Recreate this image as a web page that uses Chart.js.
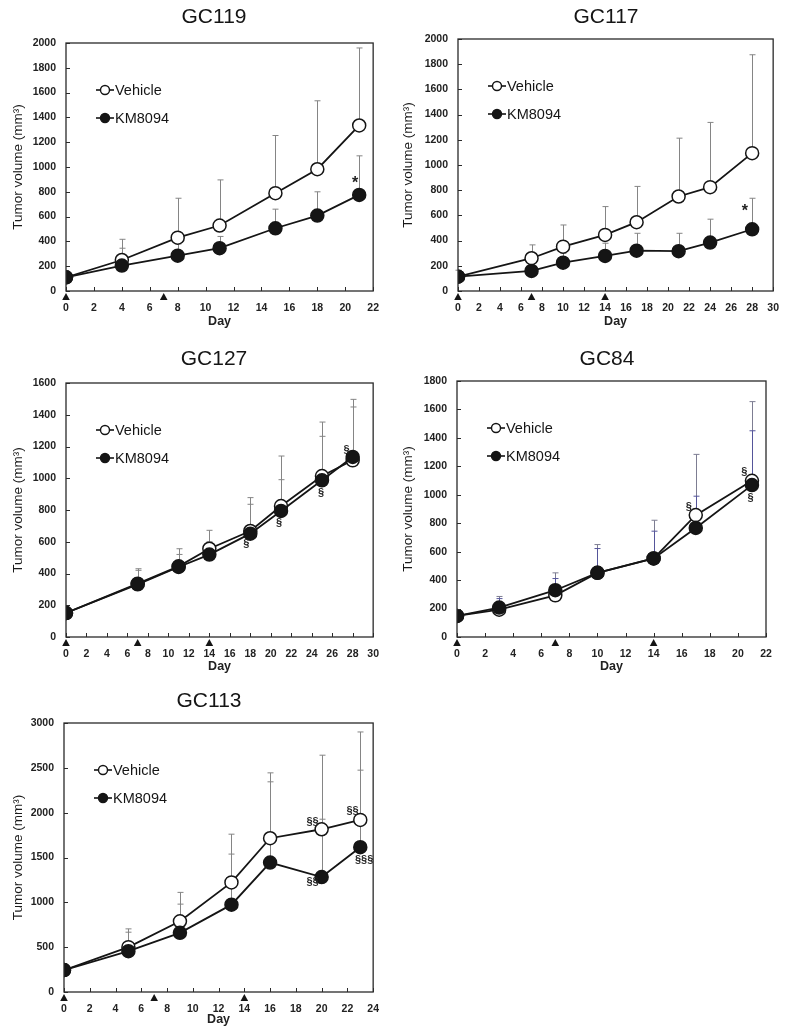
<!DOCTYPE html>
<html>
<head>
<meta charset="utf-8">
<script src="https://cdn.jsdelivr.net/npm/chart.js@4.4.0/dist/chart.umd.min.js"></script>
<style>
  body { margin: 0; background: #fff; width: 790px; height: 1033px; position: relative; overflow: hidden; }
  canvas { position: absolute; }
</style>
</head>
<body>
<canvas id="gc119" width="390" height="330" style="left:0;top:0"></canvas>
<canvas id="gc117" width="400" height="330" style="left:390px;top:0"></canvas>
<canvas id="gc127" width="390" height="345" style="left:0;top:330px"></canvas>
<canvas id="gc84" width="400" height="345" style="left:390px;top:330px"></canvas>
<canvas id="gc113" width="390" height="358" style="left:0;top:675px"></canvas>
<script>
// GC119
const gc119Days = [0, 4, 8, 11, 15, 18, 21];
const gc119Vehicle = [110, 250, 430, 528, 789, 982, 1335];
const gc119VehicleTop = [null, 417, 748, 896, 1254, 1534, 1960];
const gc119Km = [110, 205, 285, 345, 506, 608, 775];
const gc119KmTop = [null, 345, 380, 440, 660, 800, 1090];
const gc119Dosing = [0, 7];
const gc119Marks = [[20.7, 869, '*']];
const gc119XTicks = [0, 2, 4, 6, 8, 10, 12, 14, 16, 18, 20, 22];
const gc119YTicks = [0, 200, 400, 600, 800, 1000, 1200, 1400, 1600, 1800, 2000];

// GC117
const gc117Days = [0, 7, 10, 14, 17, 21, 24, 28];
const gc117Vehicle = [114, 260, 352, 445, 546, 750, 824, 1094];
const gc117VehicleTop = [165, 366, 524, 670, 830, 1213, 1338, 1875];
const gc117Km = [114, 159, 225, 278, 320, 316, 384, 490];
const gc117KmTop = [null, 230, 300, 379, 458, 458, 570, 736];
const gc117Dosing = [0, 7, 14];
const gc117Marks = [[27.3, 630, '*']];
const gc117XTicks = [0, 2, 4, 6, 8, 10, 12, 14, 16, 18, 20, 22, 24, 26, 28, 30];
const gc117YTicks = [0, 200, 400, 600, 800, 1000, 1200, 1400, 1600, 1800, 2000];

// GC127
const gc127Days = [0, 7, 11, 14, 18, 21, 25, 28];
const gc127Vehicle = [151, 336, 445, 556, 668, 825, 1014, 1113];
const gc127VehicleTop = [null, 430, 556, 672, 878, 1140, 1354, 1497];
const gc127Km = [151, 332, 441, 519, 651, 794, 987, 1134];
const gc127KmTop = [null, 420, 520, 600, 836, 991, 1264, 1449];
const gc127Dosing = [0, 7, 14];
const gc127Marks = [[17.6, 588, '§'], [20.8, 718, '§'], [24.9, 909, '§'], [27.4, 1180, '§']];
const gc127XTicks = [0, 2, 4, 6, 8, 10, 12, 14, 16, 18, 20, 22, 24, 26, 28, 30];
const gc127YTicks = [0, 200, 400, 600, 800, 1000, 1200, 1400, 1600];

// GC84
const gc84Days = [0, 3, 7, 10, 14, 17, 21];
const gc84Vehicle = [148, 192, 293, 451, 552, 857, 1098];
const gc84VehicleTop = [null, 285, 451, 650, 821, 1284, 1655];
const gc84Km = [148, 207, 329, 451, 552, 767, 1068];
const gc84KmTop = [null, 270, 411, 622, 744, 990, 1450];
const gc84Dosing = [0, 7, 14];
const gc84Marks = [[16.5, 911, '§'], [20.45, 1161, '§'], [20.9, 981, '§']];
const gc84XTicks = [0, 2, 4, 6, 8, 10, 12, 14, 16, 18, 20, 22];
const gc84YTicks = [0, 200, 400, 600, 800, 1000, 1200, 1400, 1600, 1800];

// GC113
const gc113Days = [0, 5, 9, 13, 16, 20, 23];
const gc113Vehicle = [244, 500, 789, 1222, 1715, 1815, 1919];
const gc113VehicleTop = [null, 704, 1111, 1760, 2444, 2641, 2900];
const gc113Km = [244, 455, 660, 974, 1444, 1282, 1615];
const gc113KmTop = [null, 667, 980, 1538, 2344, 1927, 2474];
const gc113Dosing = [0, 7, 14];
const gc113Marks = [[19.3, 1900, '§§'], [22.4, 2022, '§§'], [19.3, 1222, '§§'], [23.3, 1474, '§§§']];
const gc113XTicks = [0, 2, 4, 6, 8, 10, 12, 14, 16, 18, 20, 22, 24];
const gc113YTicks = [0, 500, 1000, 1500, 2000, 2500, 3000];

const FONT = "'Liberation Sans', Arial, sans-serif";
const INK = '#151515';

// upper-only error bars, drawn under the lines and markers
const errorBars = {
  id: 'errorBars',
  beforeDatasetsDraw(chart) {
    const ctx = chart.ctx, x = chart.scales.x, y = chart.scales.y;
    chart.data.datasets.forEach(ds => {
      ctx.save();
      ctx.strokeStyle = ds.errColor;
      ctx.lineWidth = 1;
      ds.data.forEach((p, i) => {
        const top = ds.tops[i];
        if (top == null) return;
        const px = Math.round(x.getPixelForValue(p.x)) + 0.5;
        const y0 = y.getPixelForValue(p.y), y1 = y.getPixelForValue(top);
        ctx.beginPath();
        ctx.moveTo(px, y0); ctx.lineTo(px, y1);
        ctx.moveTo(px - 3, y1); ctx.lineTo(px + 3, y1);
        ctx.stroke();
      });
      ctx.restore();
    });
  }
};

// frame, inward ticks, dosing triangles, title, legend, significance marks
const decor = {
  id: 'decor',
  afterDraw(chart, args, opts) {
    const ctx = chart.ctx, a = chart.chartArea, x = chart.scales.x, y = chart.scales.y;
    ctx.save();
    ctx.strokeStyle = '#2a2a2a';
    ctx.lineWidth = 1.3;
    ctx.strokeRect(a.left, a.top, a.right - a.left, a.bottom - a.top);
    ctx.lineWidth = 1;
    ctx.beginPath();
    x.ticks.forEach(t => {
      const px = Math.round(x.getPixelForValue(t.value)) + 0.5;
      ctx.moveTo(px, a.bottom); ctx.lineTo(px, a.bottom - 4);
    });
    y.ticks.forEach(t => {
      const py = Math.round(y.getPixelForValue(t.value)) + 0.5;
      ctx.moveTo(a.left, py); ctx.lineTo(a.left + 4, py);
    });
    ctx.stroke();

    ctx.fillStyle = INK;
    opts.dosing.forEach(d => {
      const px = x.getPixelForValue(d);
      ctx.beginPath();
      ctx.moveTo(px, a.bottom + 2);
      ctx.lineTo(px - 3.8, a.bottom + 9);
      ctx.lineTo(px + 3.8, a.bottom + 9);
      ctx.closePath();
      ctx.fill();
    });

    ctx.textAlign = 'center';
    ctx.textBaseline = 'middle';
    ctx.font = '21px ' + FONT;
    ctx.fillText(opts.title, opts.titleX, opts.titleY);

    opts.marks.forEach(m => {
      ctx.font = m[2] === '*' ? 'bold 16px ' + FONT : 'bold 11px ' + FONT;
      ctx.fillStyle = '#222';
      ctx.fillText(m[2], x.getPixelForValue(m[0]), y.getPixelForValue(m[1]));
    });

    const lx = a.left + 30;
    chart.data.datasets.forEach((ds, i) => {
      const ly = a.top + 47 + i * 28;
      ctx.strokeStyle = INK;
      ctx.lineWidth = 1.6;
      ctx.beginPath();
      ctx.moveTo(lx, ly); ctx.lineTo(lx + 18, ly);
      ctx.stroke();
      ctx.beginPath();
      ctx.arc(lx + 9, ly, 4.5, 0, Math.PI * 2);
      ctx.fillStyle = ds.pointBackgroundColor;
      ctx.fill();
      ctx.lineWidth = 1.4;
      ctx.stroke();
      ctx.fillStyle = INK;
      ctx.textAlign = 'left';
      ctx.font = '14.5px ' + FONT;
      ctx.fillText(ds.label, lx + 19, ly + 1);
    });
    ctx.restore();
  }
};

function panel(id, p) {
  const pts = vals => p.days.map((d, i) => ({ x: d, y: vals[i] }));
  const line = {
    borderColor: INK, borderWidth: 1.8, tension: 0,
    pointRadius: 6.5, pointBorderWidth: 1.5, pointBorderColor: INK
  };
  const plain = v => String(v);
  new Chart(document.getElementById(id), {
    type: 'line',
    data: {
      datasets: [
        Object.assign({ label: 'Vehicle', data: pts(p.vehicle), tops: p.vehicleTop, errColor: p.errColor[0],
          pointBackgroundColor: '#ffffff', order: 1 }, line),
        Object.assign({ label: 'KM8094', data: pts(p.km), tops: p.kmTop, errColor: p.errColor[1],
          pointBackgroundColor: INK, order: 0 }, line)
      ]
    },
    options: {
      responsive: false,
      animation: false,
      events: [],
      layout: { padding: { top: p.box.top, right: p.box.right, left: 0, bottom: 0 } },
      scales: {
        x: {
          type: 'linear', min: p.xTicks[0], max: p.xTicks[p.xTicks.length - 1],
          afterBuildTicks: s => { s.ticks = p.xTicks.map(v => ({ value: v })); },
          afterFit: s => { s.height = p.box.xH; },
          grid: { display: false, drawTicks: false, tickLength: 0 }, border: { display: false },
          ticks: { padding: 11, color: '#222', font: { family: FONT, size: 10.5, weight: 'bold' },
            maxRotation: 0, autoSkip: false, callback: plain },
          title: { display: true, text: 'Day', color: '#222', padding: { top: 0, bottom: p.box.dayPad },
            font: { family: FONT, size: 12.5, weight: 'bold' } }
        },
        y: {
          min: p.yTicks[0], max: p.yTicks[p.yTicks.length - 1],
          afterBuildTicks: s => { s.ticks = p.yTicks.map(v => ({ value: v })); },
          afterFit: s => { s.width = p.box.yW; },
          grid: { display: false, drawTicks: false, tickLength: 0 }, border: { display: false },
          ticks: { padding: 10, color: '#222', font: { family: FONT, size: 10.5, weight: 'bold' },
            autoSkip: false, callback: plain },
          title: { display: true, text: 'Tumor volume (mm³)', color: '#1a1a1a', padding: { top: 10, bottom: 0 },
            font: { family: FONT, size: 13.5 } }
        }
      },
      plugins: {
        legend: { display: false },
        tooltip: { enabled: false },
        decor: { title: p.title, titleX: p.box.titleX, titleY: p.box.titleY, dosing: p.dosing, marks: p.marks }
      }
    },
    plugins: [errorBars, decor]
  });
}

const grayErr = ['#858585', '#858585'];

panel('gc119', { title: 'GC119', days: gc119Days, vehicle: gc119Vehicle, vehicleTop: gc119VehicleTop,
  km: gc119Km, kmTop: gc119KmTop, dosing: gc119Dosing, marks: gc119Marks, xTicks: gc119XTicks, yTicks: gc119YTicks,
  errColor: grayErr, box: { top: 43, right: 12, yW: 66, xH: 39, dayPad: 1, titleX: 214, titleY: 17 } });

panel('gc117', { title: 'GC117', days: gc117Days, vehicle: gc117Vehicle, vehicleTop: gc117VehicleTop,
  km: gc117Km, kmTop: gc117KmTop, dosing: gc117Dosing, marks: gc117Marks, xTicks: gc117XTicks, yTicks: gc117YTicks,
  errColor: grayErr, box: { top: 39, right: 13, yW: 68, xH: 39, dayPad: 1, titleX: 216, titleY: 17 } });

panel('gc127', { title: 'GC127', days: gc127Days, vehicle: gc127Vehicle, vehicleTop: gc127VehicleTop,
  km: gc127Km, kmTop: gc127KmTop, dosing: gc127Dosing, marks: gc127Marks, xTicks: gc127XTicks, yTicks: gc127YTicks,
  errColor: grayErr, box: { top: 53, right: 13, yW: 66, xH: 38, dayPad: 1, titleX: 214, titleY: 29 } });

panel('gc84', { title: 'GC84', days: gc84Days, vehicle: gc84Vehicle, vehicleTop: gc84VehicleTop,
  km: gc84Km, kmTop: gc84KmTop, dosing: gc84Dosing, marks: gc84Marks, xTicks: gc84XTicks, yTicks: gc84YTicks,
  errColor: ['#7d7d92', '#55559a'], box: { top: 51, right: 24, yW: 67, xH: 38, dayPad: 1, titleX: 217, titleY: 29 } });

panel('gc113', { title: 'GC113', days: gc113Days, vehicle: gc113Vehicle, vehicleTop: gc113VehicleTop,
  km: gc113Km, kmTop: gc113KmTop, dosing: gc113Dosing, marks: gc113Marks, xTicks: gc113XTicks, yTicks: gc113YTicks,
  errColor: grayErr, box: { top: 48, right: 14, yW: 64, xH: 41, dayPad: 6, titleX: 209, titleY: 26 } });
</script>
</body>
</html>
